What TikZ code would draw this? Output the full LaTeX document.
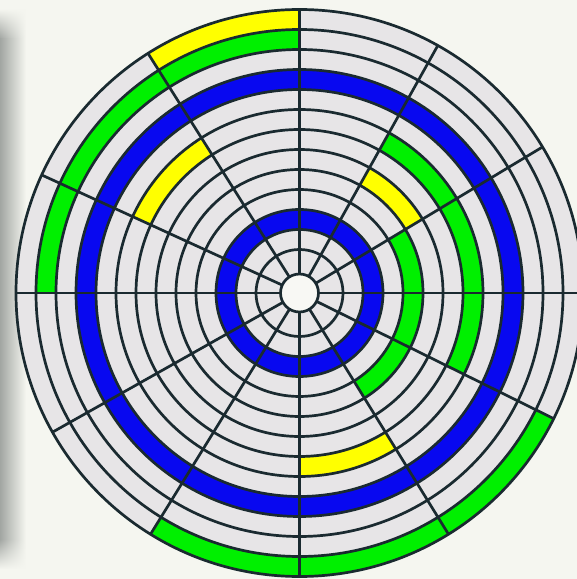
\documentclass[tikz,border=0pt]{standalone}
\usetikzlibrary{fadings}
\definecolor{bg}{HTML}{F5F6F0}
\definecolor{shadowc}{HTML}{A2A6A2}
\definecolor{diskgray}{HTML}{E7E5E7}
\definecolor{ln}{HTML}{1A2A30}
\definecolor{bl}{HTML}{0808F0}
\definecolor{gr}{HTML}{00F000}
\definecolor{ye}{HTML}{FFFF00}
\definecolor{hubc}{HTML}{F8F8F4}
\newcommand\ringseg[5]{\fill[#1] (#4:#3) arc[start angle=#4, end angle=#5, radius=#3] -- (#5:#2) arc[start angle=#5, end angle=#4, radius=#2] -- cycle;}
\tikzset{gridline/.style={draw=ln, line width=2.7pt}}
\begin{document}
\begin{tikzpicture}[x=1pt,y=1pt]
\useasboundingbox (0,0) rectangle (577,579);
\clip (0,0) rectangle (577,579);
\fill[bg] (0,0) rectangle (577,579);
\shade[left color=shadowc, right color=bg] (0,40) rectangle (26,540);
\begin{scope}
  \clip (0,540) rectangle (26,570);
  \shade[left color=shadowc, right color=bg, path fading=north] (0,540) rectangle (26,570);
\end{scope}
\begin{scope}
  \clip (0,10) rectangle (26,40);
  \shade[left color=shadowc, right color=bg, path fading=south] (0,10) rectangle (26,40);
\end{scope}
\begin{scope}[shift={(299.5,286)}]
  \fill[diskgray] (0,0) circle[radius=283.5];
  % full blue rings
  \fill[bl, even odd rule] (0,0) circle[radius=223.5] (0,0) circle[radius=203.5];
  \fill[bl, even odd rule] (0,0) circle[radius=83.5] (0,0) circle[radius=63.5];
  % ring 1
  \ringseg{ye}{263.5}{283.5}{90}{122.3}
  \ringseg{gr}{263.5}{283.5}{238.3}{333.7}
  % ring 2
  \ringseg{gr}{243.5}{263.5}{90}{180}
  % ring 6
  \ringseg{ye}{163.5}{183.5}{122.3}{155.4}
  \ringseg{gr}{163.5}{183.5}{-26.3}{60.8}
  \ringseg{ye}{163.5}{183.5}{270}{301.7}
  % ring 8
  \ringseg{ye}{123.5}{143.5}{31}{60.8}
  % ring 9
  \ringseg{gr}{103.5}{123.5}{-58.3}{31}
  % circles
  \foreach \r in {43.5,63.5,...,283.5} \draw[gridline] (0,0) circle[radius=\r];
  % spokes
  \foreach \a in {0,31,60.8,90,122.3,155.4,180,209.4,238.3,270,301.7,333.7}
    \draw[gridline] (\a:19) -- (\a:283.5);
  \path[gridline, fill=hubc] (0,0) circle[radius=19];
\end{scope}
\end{tikzpicture}
\end{document}
